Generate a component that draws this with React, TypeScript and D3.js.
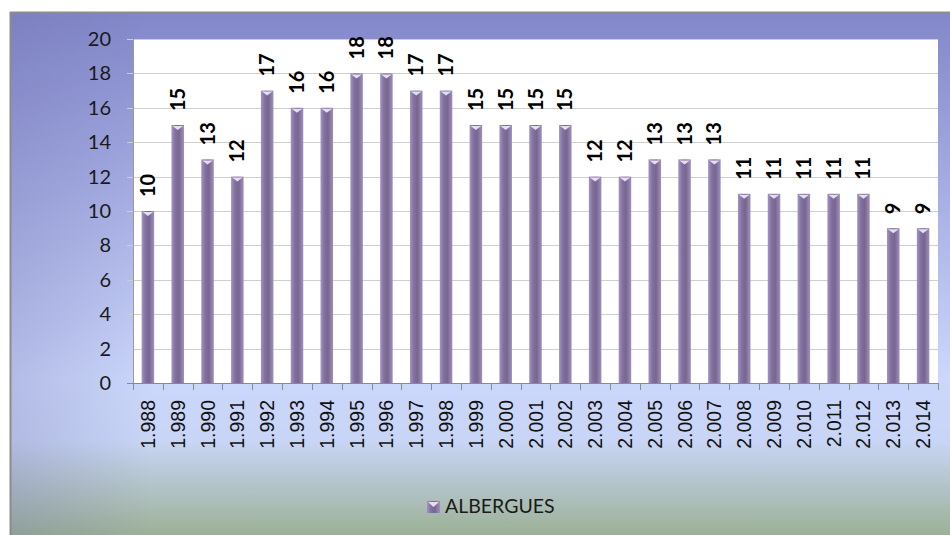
import { useEffect, useRef } from 'react';
import * as d3 from 'd3';

const years = [
  '1.988', '1.989', '1.990', '1.991', '1.992', '1.993', '1.994', '1.995', '1.996',
  '1.997', '1.998', '1.999', '2.000', '2.001', '2.002', '2.003', '2.004', '2.005',
  '2.006', '2.007', '2.008', '2.009', '2.010', '2.011', '2.012', '2.013', '2.014',
];
const albergues = [
  10, 15, 13, 12, 17, 16, 16, 18, 18, 17, 17, 15, 15, 15, 15, 12, 12, 13, 13, 13,
  11, 11, 11, 11, 11, 9, 9,
];
const yTicks = [0, 2, 4, 6, 8, 10, 12, 14, 16, 18, 20];
const seriesName = 'ALBERGUES';

export default function App() {
  const svgRef = useRef<SVGSVGElement>(null);

  useEffect(() => {
    const width = 950;
    const height = 535;
    const plot = { left: 133, right: 938, top: 39, bottom: 383 };
    const font = 'Lato, "Open Sans", sans-serif';

    const svg = d3.select(svgRef.current).attr('width', width).attr('height', height);
    svg.selectAll('*').remove();

    const defs = svg.append('defs');

    // fond du cadre
    const bg = defs.append('linearGradient').attr('id', 'bg').attr('x1', 0).attr('y1', 0).attr('x2', 0).attr('y2', 1);
    bg.append('stop').attr('offset', '0%').attr('stop-color', '#8287c9');
    bg.append('stop').attr('offset', '30%').attr('stop-color', '#a1a9e0');
    bg.append('stop').attr('offset', '70%').attr('stop-color', '#cbd7fb');
    bg.append('stop').attr('offset', '82%').attr('stop-color', '#c8d5f6');
    bg.append('stop').attr('offset', '100%').attr('stop-color', '#9cb196');

    const bgSide = defs.append('linearGradient').attr('id', 'bgside').attr('x1', 0).attr('y1', 0).attr('x2', 1).attr('y2', 0);
    bgSide.append('stop').attr('offset', '0%').attr('stop-color', '#6a6aa8').attr('stop-opacity', 0.25);
    bgSide.append('stop').attr('offset', '15%').attr('stop-color', '#6a6aa8').attr('stop-opacity', 0);

    // barre "cylindre"
    const barG = defs.append('linearGradient').attr('id', 'bar').attr('x1', 0).attr('y1', 0).attr('x2', 1).attr('y2', 0);
    barG.append('stop').attr('offset', '0%').attr('stop-color', '#a294bf');
    barG.append('stop').attr('offset', '30%').attr('stop-color', '#8271a0');
    barG.append('stop').attr('offset', '60%').attr('stop-color', '#77668f');
    barG.append('stop').attr('offset', '100%').attr('stop-color', '#9f91bc');

    svg.append('rect').attr('x', 10).attr('y', 12).attr('width', width - 10).attr('height', height - 12).attr('fill', 'url(#bg)');
    svg.append('rect').attr('x', 10).attr('y', 12).attr('width', width - 10).attr('height', height - 12).attr('fill', 'url(#bgside)');
    svg.append('line').attr('x1', 10).attr('x2', width).attr('y1', 12.5).attr('y2', 12.5).attr('stroke', '#8c8c8c').attr('stroke-width', 2);
    svg.append('line').attr('x1', 10.5).attr('x2', 10.5).attr('y1', 12).attr('y2', height).attr('stroke', '#8c8c8c').attr('stroke-width', 2);

    const x = d3.scaleBand().domain(years).range([plot.left, plot.right]).paddingInner(0.58).paddingOuter(0.29);
    const y = d3.scaleLinear().domain([0, 20]).range([plot.bottom, plot.top]);
    const cx = (i: number) => x(years[i])! + x.bandwidth() / 2;

    svg.append('rect')
      .attr('x', plot.left).attr('y', plot.top)
      .attr('width', plot.right - plot.left).attr('height', plot.bottom - plot.top)
      .attr('fill', '#ffffff');

    // grille
    svg.append('g')
      .selectAll('line')
      .data(yTicks.filter(d => d > 0))
      .join('line')
      .attr('x1', plot.left - 6).attr('x2', plot.right)
      .attr('y1', d => Math.round(y(d)) + 0.5).attr('y2', d => Math.round(y(d)) + 0.5)
      .attr('stroke', '#cfcfcf');

    // axe Y
    svg.append('line').attr('x1', plot.left + 0.5).attr('x2', plot.left + 0.5).attr('y1', plot.top).attr('y2', plot.bottom).attr('stroke', '#9a9a9a');
    svg.append('g')
      .selectAll('text')
      .data(yTicks)
      .join('text')
      .attr('x', 111)
      .attr('y', d => y(d) + 7)
      .attr('text-anchor', 'end')
      .attr('font-family', font)
      .attr('font-size', 20)
      .attr('fill', '#1a1a1a')
      .text(d => d);

    // axe X
    svg.append('line').attr('x1', plot.left - 6).attr('x2', plot.right).attr('y1', plot.bottom + 0.5).attr('y2', plot.bottom + 0.5).attr('stroke', '#8a8a8a');
    const step = x.step();
    svg.append('g')
      .selectAll('line')
      .data(d3.range(years.length + 1))
      .join('line')
      .attr('x1', i => Math.round(plot.left + i * step) + 0.5)
      .attr('x2', i => Math.round(plot.left + i * step) + 0.5)
      .attr('y1', plot.bottom).attr('y2', plot.bottom + 7)
      .attr('stroke', '#8a8a8a');

    svg.append('g')
      .selectAll('text')
      .data(years)
      .join('text')
      .attr('transform', (d, i) => `translate(${cx(i) + 7},400) rotate(-90)`)
      .attr('text-anchor', 'end')
      .attr('font-family', '"Liberation Sans", Arial, sans-serif')
      .attr('font-size', 19.5)
      .attr('fill', '#111')
      .text(d => d);

    // barres
    const bars = svg.append('g');
    bars.selectAll('rect')
      .data(albergues)
      .join('rect')
      .attr('x', (d, i) => x(years[i])!)
      .attr('y', d => y(d))
      .attr('width', x.bandwidth())
      .attr('height', d => y(0) - y(d))
      .attr('fill', 'url(#bar)');
    bars.selectAll('path')
      .data(albergues)
      .join('path')
      .attr('d', (d, i) => {
        const x0 = x(years[i])!;
        const w = x.bandwidth();
        const t = y(d);
        return `M${x0 + 1},${t + 1} L${x0 + w - 1},${t + 1} L${x0 + w / 2},${t + 5} Z`;
      })
      .attr('fill', '#e6def2');

    // étiquettes
    svg.append('g')
      .selectAll('text')
      .data(albergues)
      .join('text')
      .attr('transform', (d, i) => `translate(${cx(i) + 7},${y(d) - 14}) rotate(-90)`)
      .attr('text-anchor', 'start')
      .attr('font-family', font)
      .attr('font-weight', 'bold')
      .attr('font-size', 20)
      .attr('fill', '#000')
      .text(d => d);

    // légende
    const legend = svg.append('g');
    legend.append('rect').attr('x', 427).attr('y', 501).attr('width', 13).attr('height', 12).attr('fill', 'url(#bar)');
    legend.append('path').attr('d', 'M428,502 L439,502 L433.5,507 Z').attr('fill', '#e6def2');
    legend.append('text')
      .attr('x', 445).attr('y', 513)
      .attr('font-family', font)
      .attr('font-size', 19.5)
      .attr('fill', '#1a1a1a')
      .text(seriesName);
  }, []);

  return (
    <div style={{ position: 'absolute', left: 0, top: 0 }}>
      <svg ref={svgRef} style={{ display: 'block' }}></svg>
    </div>
  );
}
